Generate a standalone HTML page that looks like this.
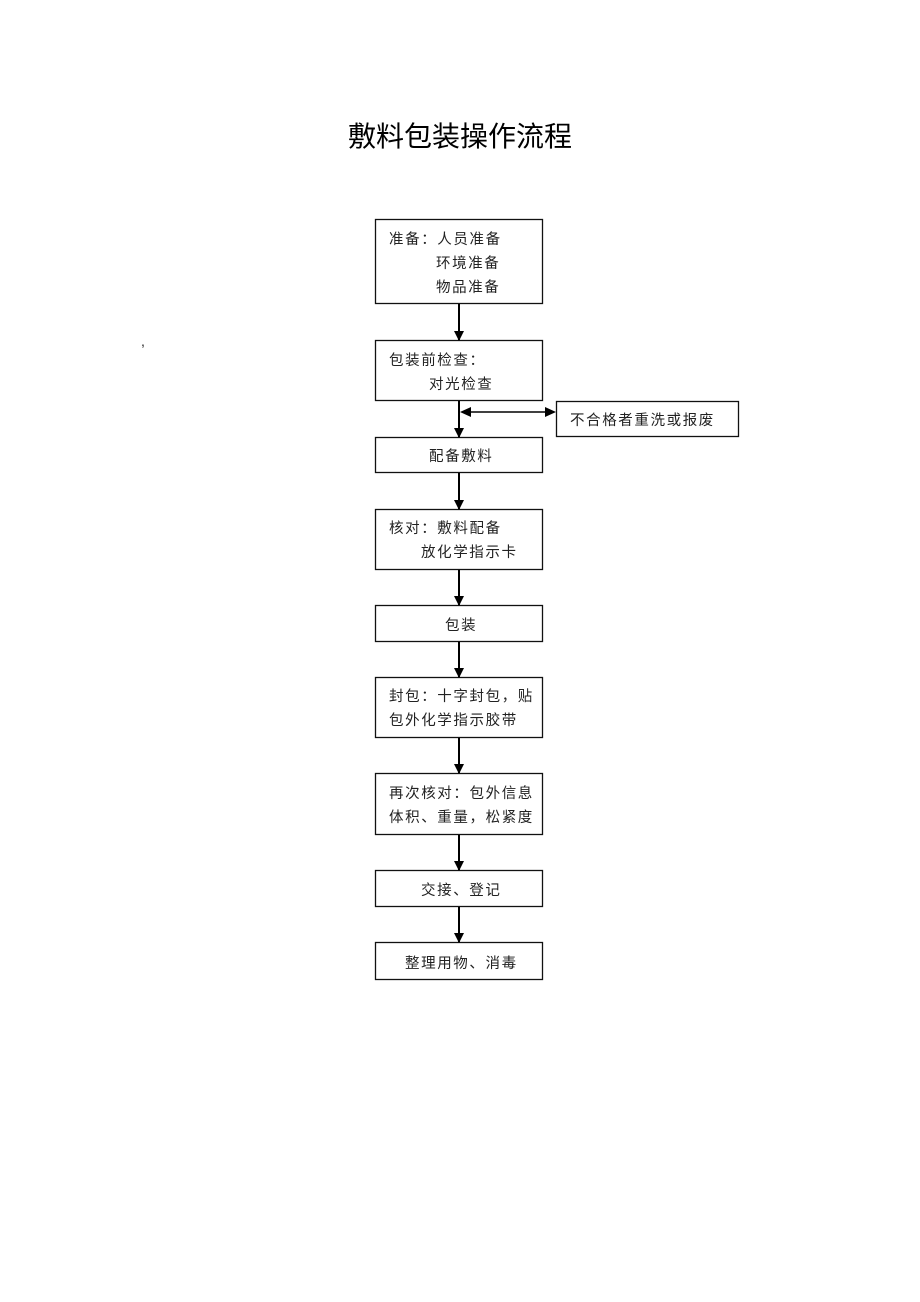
<!DOCTYPE html>
<html><head><meta charset="utf-8"><style>
html,body{margin:0;padding:0;background:#fff;}
svg{display:block;}
text{font-family:"Liberation Sans","Noto Sans CJK SC",sans-serif;fill:#222;}
.t{font-size:14.5px;letter-spacing:1.6px;}
</style></head><body>
<svg width="920" height="1302" viewBox="0 0 920 1302" xmlns="http://www.w3.org/2000/svg">
<defs><marker id="a" markerWidth="10" markerHeight="10" refX="9" refY="5" orient="auto" markerUnits="userSpaceOnUse"><path d="M0,0 L10,5 L0,10 z" fill="#000"/></marker></defs>
<text x="460" y="146" text-anchor="middle" style="font-size:28px;font-weight:400;fill:#000">敷料包装操作流程</text>
<text x="141" y="346" style="font-size:14px">,</text>
<g fill="none" stroke="#111" stroke-width="1.3">
<rect x="375.5" y="219.5" width="167" height="84"/>
<rect x="375.5" y="340.5" width="167" height="60"/>
<rect x="556.5" y="401.5" width="182" height="35"/>
<rect x="375.5" y="437.5" width="167" height="35"/>
<rect x="375.5" y="509.5" width="167" height="60"/>
<rect x="375.5" y="605.5" width="167" height="36"/>
<rect x="375.5" y="677.5" width="167" height="60"/>
<rect x="375.5" y="773.5" width="167" height="61"/>
<rect x="375.5" y="870.5" width="167" height="36"/>
<rect x="375.5" y="942.5" width="167" height="37"/>
</g>
<g stroke="#000" stroke-width="2" marker-end="url(#a)">
<line x1="459" y1="304" x2="459" y2="340"/>
<line x1="459" y1="401" x2="459" y2="437"/>
<line x1="459" y1="473" x2="459" y2="509"/>
<line x1="459" y1="570" x2="459" y2="605"/>
<line x1="459" y1="642" x2="459" y2="677"/>
<line x1="459" y1="738" x2="459" y2="773"/>
<line x1="459" y1="835" x2="459" y2="870"/>
<line x1="459" y1="907" x2="459" y2="942"/>
</g>
<line x1="470" y1="412" x2="547" y2="412" stroke="#000" stroke-width="1.5"/>
<path d="M460,412 L471,407 L471,417 z" fill="#000"/>
<path d="M556,412 L545,407 L545,417 z" fill="#000"/>
<g class="t">
<text class="t" x="389" y="244">准备：人员准备</text>
<text class="t" x="436" y="268">环境准备</text>
<text class="t" x="436" y="292">物品准备</text>
<text class="t" x="389" y="365">包装前检查：</text>
<text class="t" x="429" y="389">对光检查</text>
<text class="t" x="570" y="425">不合格者重洗或报废</text>
<text class="t" x="429" y="461">配备敷料</text>
<text class="t" x="389" y="533">核对：敷料配备</text>
<text class="t" x="421" y="557">放化学指示卡</text>
<text class="t" x="445" y="630">包装</text>
<text class="t" x="389" y="701">封包：十字封包，贴</text>
<text class="t" x="389" y="725">包外化学指示胶带</text>
<text class="t" x="389" y="798">再次核对：包外信息</text>
<text class="t" x="389" y="822">体积、重量，松紧度</text>
<text class="t" x="421" y="895">交接、登记</text>
<text class="t" x="405" y="968">整理用物、消毒</text>
</g>
</svg>
</body></html>
